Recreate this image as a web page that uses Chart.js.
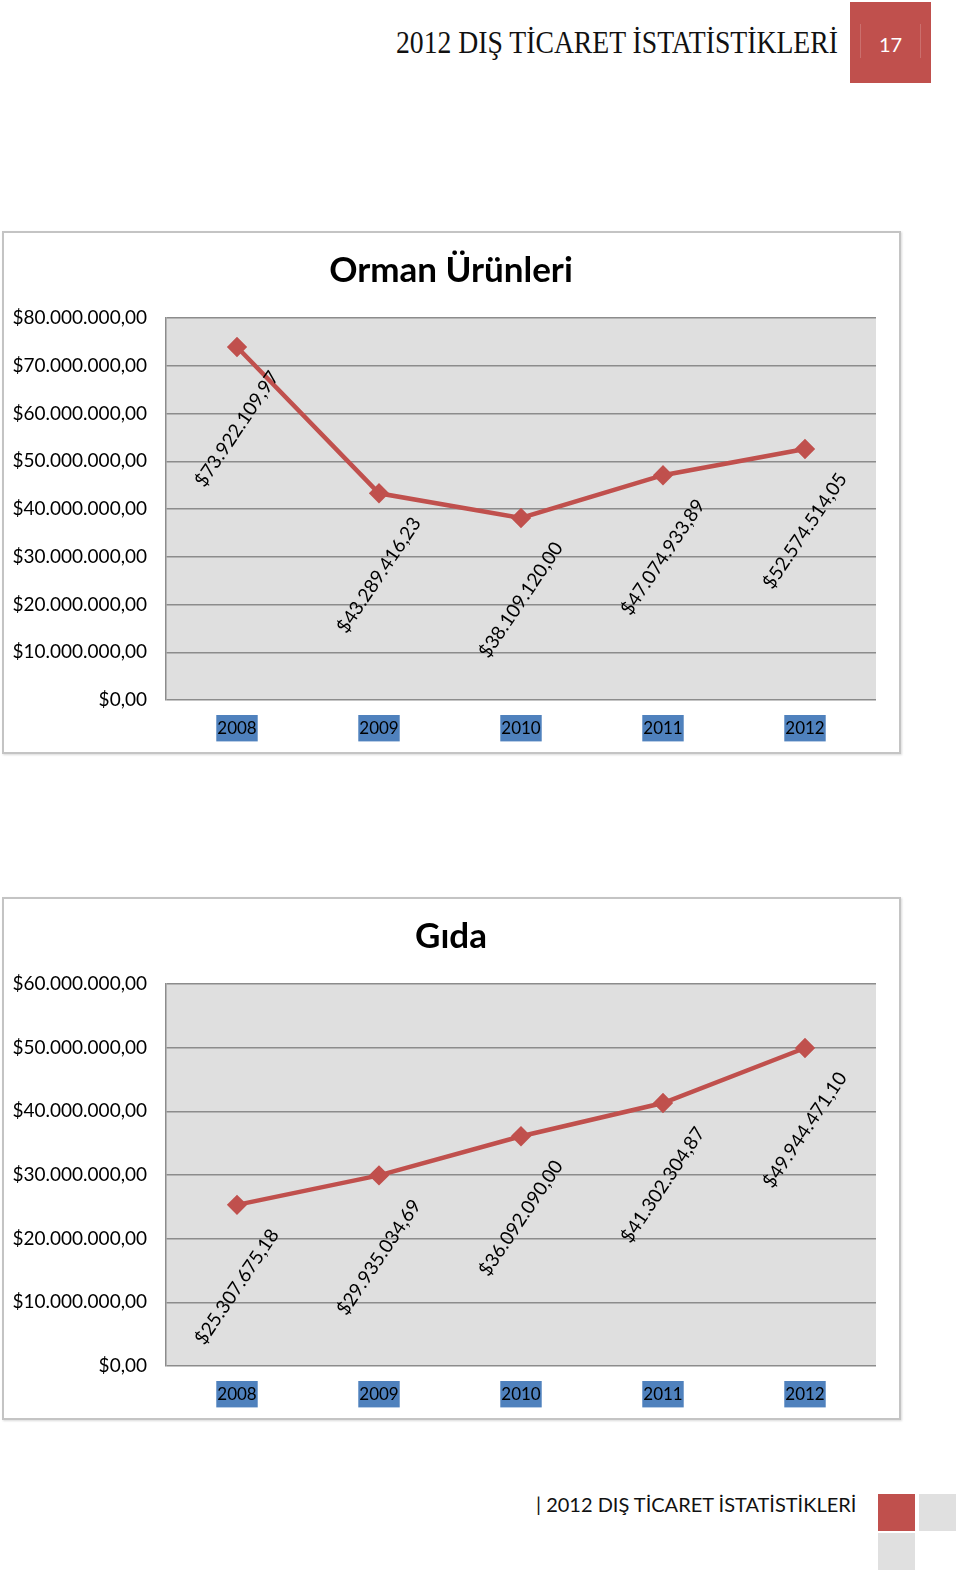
<!DOCTYPE html>
<html>
<head>
<meta charset="utf-8">
<title>2012 Dış Ticaret İstatistikleri</title>
<script src="https://cdn.jsdelivr.net/npm/chart.js@4.4.0/dist/chart.umd.min.js"></script>
<style>
    body {
        margin: 0;
        width: 960px;
        height: 1573px;
        position: relative;
        overflow: hidden;
        background: #fff;
        font-family: Lato, sans-serif;
    }
    .header-title {
        position: absolute;
        left: 396px;
        top: 21px;
        font-family: "Liberation Serif", serif;
        font-size: 32px;
        line-height: 42px;
        color: #111;
        white-space: nowrap;
        transform-origin: left center;
    }
    .page-box {
        position: absolute;
        left: 850px;
        top: 2px;
        width: 81px;
        height: 81px;
        background: #C0504D;
    }
    .page-box .rule {
        position: absolute;
        top: 22px;
        width: 1px;
        height: 34px;
        background: rgba(255, 255, 255, 0.18);
    }
    .page-num {
        position: absolute;
        left: 0;
        top: 29px;
        width: 81px;
        text-align: center;
        color: #fff;
        font-size: 20px;
        line-height: 26px;
    }
    .chart-frame {
        position: absolute;
        left: 2px;
        width: 895px;
        height: 519px;
        border: 2px solid #c4c4c4;
        box-shadow: 1px 1px 2px rgba(0, 0, 0, 0.15);
    }
    canvas {
        position: absolute;
        left: 3px;
    }
    .footer-title {
        position: absolute;
        left: 536px;
        top: 1491px;
        font-size: 20px;
        line-height: 26px;
        color: #111;
        white-space: nowrap;
    }
    .sq {
        position: absolute;
        width: 37px;
        height: 37px;
    }
</style>
</head>
<body>
<div class="header-title" id="header-title">2012 DIŞ TİCARET İSTATİSTİKLERİ</div>
<div class="page-box">
    <div class="rule" style="left:10px"></div>
    <div class="rule" style="left:70px"></div>
    <div class="page-num">17</div>
</div>

<div class="chart-frame" style="top:231px"></div>
<canvas id="orman-chart" width="896" height="521" style="top:232px"></canvas>

<div class="chart-frame" style="top:897px"></div>
<canvas id="gida-chart" width="896" height="521" style="top:898px"></canvas>

<div class="footer-title">| 2012 DIŞ TİCARET İSTATİSTİKLERİ</div>
<div class="sq" style="left:878px; top:1494px; background:#C0504D"></div>
<div class="sq" style="left:919px; top:1494px; background:#e0e0e0"></div>
<div class="sq" style="left:878px; top:1533px; background:#e0e0e0"></div>

<script>
// Chart data
const years = ['2008', '2009', '2010', '2011', '2012'];
const ormanValues = [73922109.97, 43289416.23, 38109120.00, 47074933.89, 52574514.05];
const gidaValues = [25307675.18, 29935034.69, 36092090.00, 41302304.87, 49944471.10];
const ormanMax = 80000000;
const gidaMax = 60000000;
const tickStep = 10000000;

const lineColor = '#C0504D';
const gridColor = '#8c8c8c';

// Squeeze the serif header to the width it has in the page
const headerEl = document.getElementById('header-title');
headerEl.style.transform = 'scaleX(' + (442 / headerEl.offsetWidth) + ')';

// $73.922.109,97 style formatting
function formatDollar(v) {
    const parts = Number(v).toFixed(2).split('.');
    const intPart = parts[0].replace(/\B(?=(\d{3})+(?!\d))/g, '.');
    return '$' + intPart + ',' + parts[1];
}

// Grey fill behind the plot area
const plotBackground = {
    id: 'plotBackground',
    beforeDraw(chart) {
        const { ctx, chartArea: a } = chart;
        ctx.save();
        ctx.fillStyle = '#dfdfdf';
        ctx.fillRect(a.left, a.top, a.right - a.left, a.bottom - a.top);
        ctx.restore();
    }
};

// Chart title centred on the whole frame (the built-in one centres inside the padding)
const frameTitle = {
    id: 'frameTitle',
    afterDraw(chart, args, opts) {
        const ctx = chart.ctx;
        ctx.save();
        ctx.font = 'bold 35px Lato';
        ctx.fillStyle = '#000';
        ctx.textAlign = 'center';
        ctx.textBaseline = 'middle';
        ctx.fillText(opts.text, chart.width / 2, 39);
        ctx.restore();
    }
};

// Rotated value labels under each point
const valueLabels = {
    id: 'valueLabels',
    afterDatasetsDraw(chart) {
        const ctx = chart.ctx;
        const meta = chart.getDatasetMeta(0);
        const data = chart.data.datasets[0].data;
        ctx.save();
        ctx.font = '19px Lato';
        ctx.fillStyle = '#000';
        ctx.textAlign = 'center';
        ctx.textBaseline = 'middle';
        meta.data.forEach((pt, i) => {
            ctx.save();
            ctx.translate(pt.x, pt.y + 82);
            ctx.rotate(-56 * Math.PI / 180);
            ctx.fillText(formatDollar(data[i]), 0, 0);
            ctx.restore();
        });
        ctx.restore();
    }
};

function makeChart(canvasId, title, values, maxValue) {
    const ctx = document.getElementById(canvasId).getContext('2d');
    return new Chart(ctx, {
        type: 'line',
        data: {
            labels: years,
            datasets: [{
                data: values,
                borderColor: lineColor,
                backgroundColor: lineColor,
                borderWidth: 4.5,
                pointStyle: 'rectRot',
                pointRadius: 7,
                pointBackgroundColor: lineColor,
                pointBorderColor: lineColor,
                tension: 0
            }]
        },
        options: {
            responsive: false,
            animation: false,
            devicePixelRatio: 1,
            layout: {
                padding: { left: 0, right: 23, top: 86, bottom: 0 }
            },
            plugins: {
                legend: { display: false },
                tooltip: { enabled: false },
                title: { display: false },
                frameTitle: { text: title }
            },
            scales: {
                x: {
                    offset: true,
                    grid: { display: false, drawTicks: false },
                    border: { display: false },
                    ticks: {
                        color: '#000',
                        font: { family: 'Lato', size: 17 },
                        padding: 18,
                        maxRotation: 0,
                        showLabelBackdrop: true,
                        backdropColor: '#4F81BD',
                        backdropPadding: { x: 1, y: 3 }
                    },
                    afterFit(scale) { scale.height = 53; }
                },
                y: {
                    min: 0,
                    max: maxValue,
                    grid: { color: gridColor, lineWidth: 1.5, drawTicks: false },
                    border: { display: true, color: gridColor, width: 1.5 },
                    ticks: {
                        stepSize: tickStep,
                        color: '#000',
                        font: { family: 'Lato', size: 19 },
                        padding: 19,
                        callback: v => formatDollar(v)
                    },
                    afterFit(scale) { scale.width = 163; }
                }
            }
        },
        plugins: [plotBackground, valueLabels, frameTitle]
    });
}

makeChart('orman-chart', 'Orman Ürünleri', ormanValues, ormanMax);
makeChart('gida-chart', 'Gıda', gidaValues, gidaMax);
</script>
</body>
</html>
